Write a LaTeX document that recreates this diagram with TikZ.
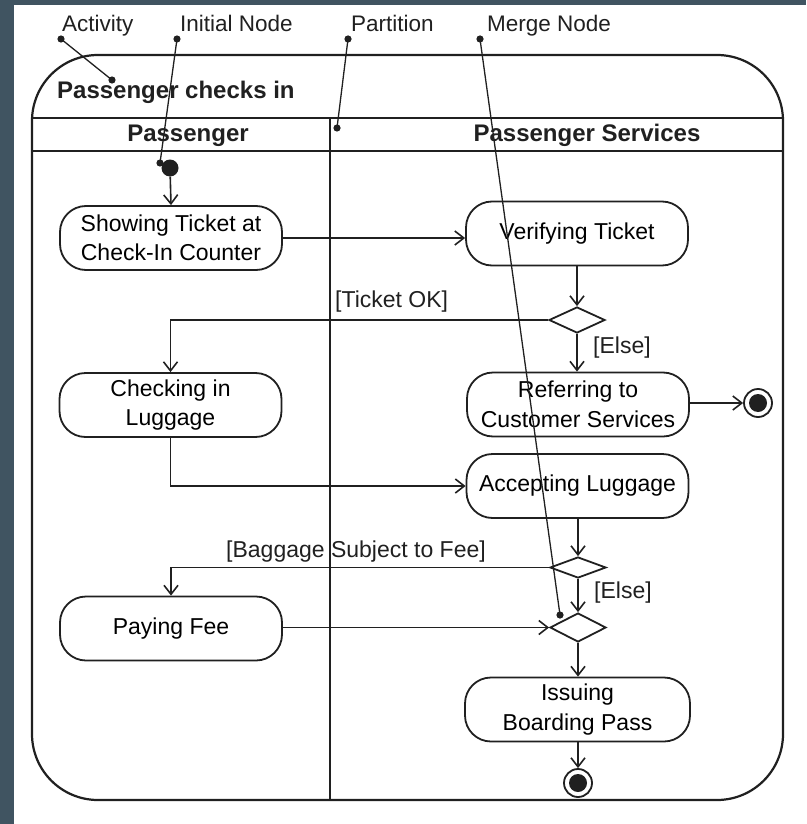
\documentclass[tikz,border=0pt]{standalone}
\usepackage{fontspec}
\setmainfont{Liberation Sans}
\usetikzlibrary{arrows.meta,shapes.geometric}
\definecolor{slate}{RGB}{64,84,97}
\definecolor{ink}{RGB}{32,32,32}
\begin{document}
\begin{tikzpicture}[x=1pt,y=-1pt,
  act/.style={draw=ink, line width=1.8pt, rounded corners=26pt, fill=white,
    minimum width=222pt, minimum height=64pt, align=center, inner sep=2pt,
    font=\fontsize{23}{29.5}\selectfont},
  dec/.style={draw=ink, line width=1.8pt, diamond, inner sep=0pt,
    minimum width=56pt, minimum height=26pt, fill=white},
  finalnode/.style={draw=ink, line width=1.8pt, circle, inner sep=0pt,
    minimum size=28pt, fill=white},
  flow/.style={draw=ink, line width=1.6pt,
    -{Straight Barb[length=9pt,width=14pt,line width=1.6pt]}},
  guard/.style={font=\fontsize{23}{28}\selectfont, inner sep=0pt, text=ink},
  callout/.style={draw=ink, line width=1.3pt},
  calltext/.style={font=\fontsize{22.5}{27}\selectfont, inner sep=0pt, anchor=base west, text=ink},
  head/.style={font=\bfseries\fontsize{24}{28}\selectfont, inner sep=0pt, anchor=base, text=ink},
  frameline/.style={draw=ink, line width=2.2pt}
]
\useasboundingbox (0,0) rectangle (806,824);
\fill[slate] (0,0) rectangle (806,824);
\fill[white] (14,5) rectangle (806,824);

% activity frame
\draw[frameline, rounded corners=66pt] (32,55) rectangle (783,800);
\draw[frameline] (32,118) -- (783,118);
\draw[frameline] (32,151) -- (783,151);
\draw[frameline] (330,118) -- (330,800);

\node[head, anchor=base west] (title) at (57,99) {Passenger checks in};
\node[head] (lane1) at (188,141) {Passenger};
\node[head] (lane2) at (587,141) {Passenger Services};

% nodes
\node[circle, fill=ink, minimum size=17pt, inner sep=0pt] (init) at (170,168) {};
\node[act] (show) at (171,238) {Showing Ticket at\\Check-In Counter};
\node[act] (verify) at (577,233.5) {Verifying Ticket};
\node[dec] (d1) at (577,320) {};
\node[act] (refer) at (578,404.5) {Referring to\\Customer Services};
\node[finalnode] (end1) at (758,403) {};
\fill[ink] (end1.center) circle (9);
\node[act] (check) at (170.5,405) {Checking in\\Luggage};
\node[act] (accept) at (577.5,486) {Accepting Luggage};
\node[dec, minimum height=21pt] (d2) at (578,567.5) {};
\node[dec, minimum height=29pt] (merge) at (578,627.5) {};
\node[act] (pay) at (171,628.5) {Paying Fee};
\node[act, minimum width=225pt] (issue) at (577.5,709.5) {Issuing\\Boarding Pass};
\node[finalnode] (end2) at (578,783) {};
\fill[ink] (end2.center) circle (9);

% flows
\draw[flow] (init) -- (show.north);
\draw[flow] (show.east) -- (show.east -| verify.west);
\draw[flow] (verify.south -| d1.north) -- (d1.north);
\draw[flow] (d1.west) -| (check.north);
\node[guard, anchor=west] (g1) at (335,302) {[Ticket OK]};
\draw[flow] (d1.south) -- (d1.south |- refer.north);
\node[guard, anchor=west] (g2) at (593,348) {[Else]};
\draw[flow] (refer.east |- end1.west) -- (end1.west);
\draw[flow] (check.south) |- (accept.west);
\draw[flow] (accept.south -| d2.north) -- (d2.north);
\draw[flow] (d2.west) -| (pay.north);
\node[guard, anchor=west] (g3) at (226,552) {[Baggage Subject to Fee]};
\draw[flow] (d2.south) -- (merge.north);
\node[guard, anchor=west] (g4) at (594,593) {[Else]};
\draw[flow] (pay.east |- merge.west) -- (merge.west);
\draw[flow] (merge.south) -- (merge.south |- issue.north);
\draw[flow] (issue.south -| end2.north) -- (end2.north);

% callouts
\node[calltext] (lActivity) at (62,32) {Activity};
\node[calltext] (lInitial) at (180,32) {Initial Node};
\node[calltext] (lPartition) at (351,32) {Partition};
\node[calltext] (lMerge) at (487,32) {Merge Node};
\coordinate (ca1) at (61,39);   \coordinate (ca2) at (112,80);
\coordinate (ci1) at (177,39);  \coordinate (ci2) at (160,163);
\coordinate (cp1) at (348,39);  \coordinate (cp2) at (337,128);
\coordinate (cm1) at (480,39);  \coordinate (cm2) at (560,615);
\draw[callout] (ca1) -- (ca2);
\draw[callout] (ci1) -- (ci2);
\draw[callout] (cp1) -- (cp2);
\draw[callout] (cm1) -- (cm2);
\foreach \c in {ca1,ca2,ci1,ci2,cp1,cp2,cm1,cm2} \fill[ink] (\c) circle (3.6);
\end{tikzpicture}
\end{document}
